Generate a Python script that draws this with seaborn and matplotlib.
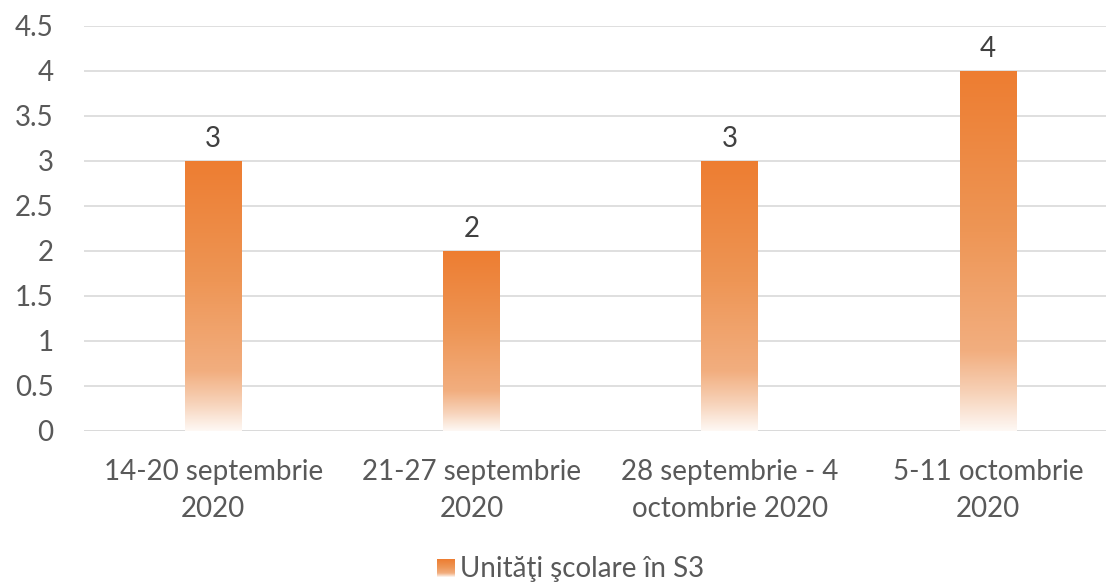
import numpy as np
import pandas as pd
import matplotlib
matplotlib.use('Agg')
import matplotlib.pyplot as plt
import seaborn as sns
from matplotlib.colors import LinearSegmentedColormap
from matplotlib.patches import Rectangle

# date
categorii = ['14-20 septembrie\n2020', '21-27 septembrie\n2020',
             '28 septembrie - 4\noctombrie 2020', '5-11 octombrie\n2020']
valori = [3, 2, 3, 4]
serie = 'Unităţi şcolare în S3'

df = pd.DataFrame({'perioada': categorii, 'valoare': valori})

sns.set_theme(style='white')
plt.rcParams['font.family'] = ['Lato', 'DejaVu Sans']

text_col = '#595959'
fs = 20
grad = LinearSegmentedColormap.from_list('grad', [
    (0.0, '#ED7D31'), (0.45, '#EE9656'), (0.78, '#F2AE7F'),
    (0.9, '#F7D3BA'), (1.0, '#FEF8F4')])

fig = plt.figure(figsize=(11.06, 5.87), dpi=100)
ax = fig.add_axes([0.076, 0.266, 0.934, 0.69])

sns.barplot(data=df, x='perioada', y='valoare', color='#ED7D31', width=0.22, ax=ax)

# gradient pe fiecare bara
gimg = np.linspace(0, 1, 256).reshape(-1, 1)
for p in ax.patches:
    x0, y0 = p.get_x(), p.get_y()
    w, h = p.get_width(), p.get_height()
    p.set_alpha(0)
    im = ax.imshow(gimg, cmap=grad, aspect='auto', extent=[x0, x0 + w, y0, y0 + h],
                   origin='upper', zorder=2)
    im.set_clip_path(Rectangle((x0, y0), w, h, transform=ax.transData))
    ax.text(x0 + w / 2, h + 0.1, f'{h:g}', ha='center', va='bottom',
            fontsize=fs, color='#404040')

ax.set_xlim(-0.5, 3.5)
ax.set_ylim(0, 4.5)
ax.set_yticks(np.arange(0, 4.51, 0.5))
ax.set_yticklabels([f'{v:g}' for v in np.arange(0, 4.51, 0.5)])
ax.yaxis.grid(True, color='#D9D9D9', linewidth=1.2)
ax.set_axisbelow(True)
for s in ax.spines.values():
    s.set_visible(False)
ax.axhline(0, color='#D9D9D9', linewidth=1.2, zorder=1)
ax.tick_params(axis='both', labelsize=fs, colors=text_col, length=0)
ax.tick_params(axis='y', pad=22)
ax.tick_params(axis='x', pad=20)
for t in ax.get_xticklabels():
    t.set_linespacing(1.55)
ax.set_xlabel('')
ax.set_ylabel('')

# legenda
lx, ly = 0.395, 0.011
sq = fig.add_axes([lx, ly + 0.006, 0.016, 0.03])
sq.imshow(gimg[:200], cmap=grad, aspect='auto')
sq.axis('off')
fig.text(lx + 0.021, ly + 0.02, serie, fontsize=fs, color=text_col, va='center')

fig.savefig('out.png', dpi=100)
